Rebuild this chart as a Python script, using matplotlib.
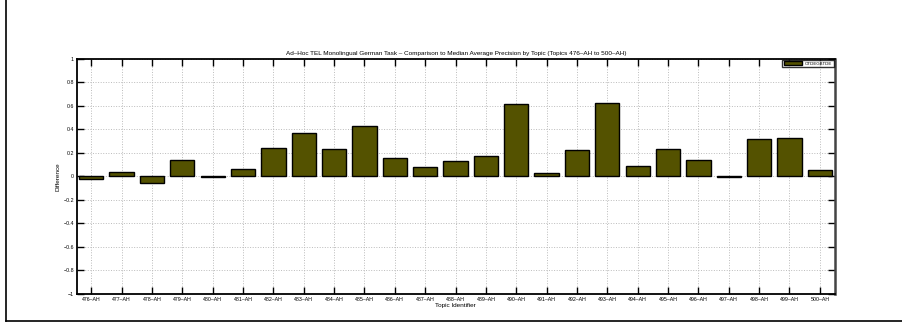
import matplotlib.pyplot as plt
from matplotlib.lines import Line2D

topics = ["%d-AH" % t for t in range(476, 501)]
diff = [-0.025, 0.037, -0.06, 0.139, -0.008, 0.065, 0.238, 0.366, 0.23, 0.426,
        0.159, 0.079, 0.13, 0.17, 0.616, 0.028, 0.227, 0.621, 0.088, 0.233,
        0.136, -0.004, 0.315, 0.323, 0.051]
yticks = [-1, -0.8, -0.6, -0.4, -0.2, 0, 0.2, 0.4, 0.6, 0.8, 1]
ytick_labels = ["\u22121", "\u22120.8", "\u22120.6", "\u22120.4", "\u22120.2", "0",
                "0.2", "0.4", "0.6", "0.8", "1"]

plt.rcParams["font.family"] = ["Liberation Sans", "DejaVu Sans"]

fig = plt.figure(figsize=(9.02, 3.22), dpi=100)
ax = fig.add_axes([0.085, 0.087, 0.8407, 0.7304])

x = list(range(len(topics)))
ax.bar(x, diff, width=0.8, color="#545200", edgecolor="black", linewidth=1,
       label="OTDEGBTDE", zorder=3)

ax.set_xlim(-0.48, 24.5)
ax.set_ylim(-1, 1)
ax.set_xticks(x)
ax.set_xticklabels([t.replace("-", "\u2013") for t in topics], fontsize=3.8)
ax.set_yticks(yticks)
ax.set_yticklabels(ytick_labels, fontsize=3.8)
ax.tick_params(direction="in", length=5, width=1, top=True, right=True, pad=2)
ax.grid(True, linestyle=":", color="#bbbbbb", linewidth=0.7, zorder=0)

for side in ["left", "bottom", "top"]:
    ax.spines[side].set_linewidth(1.3)
ax.spines["right"].set_linewidth(1.8)
ax.spines["right"].set_color("#444444")

ax.set_title("Ad\u2013Hoc TEL Monolingual German Task \u2013 Comparison to Median Average "
             "Precision by Topic (Topics 476\u2013AH to 500\u2013AH)", fontsize=4.6, pad=3)
ax.set_xlabel("Topic Identifier", fontsize=4.6, labelpad=1)
ax.set_ylabel("Difference", fontsize=4.6, labelpad=2)

leg = ax.legend(loc="upper right", fontsize=3.2, fancybox=False, edgecolor="black",
                handlelength=4, handleheight=0.9, borderpad=0.3, borderaxespad=0.3)
leg.get_frame().set_linewidth(1)

# outer frame pieces
fig.add_artist(Line2D([5.5 / 902, 5.5 / 902], [0.0016, 1], color="black", linewidth=1.2,
                      transform=fig.transFigure))
fig.add_artist(Line2D([5.5 / 902, 1], [0.0016, 0.0016], color="black", linewidth=1.2,
                      transform=fig.transFigure))

fig.savefig("out.png", dpi=100)
